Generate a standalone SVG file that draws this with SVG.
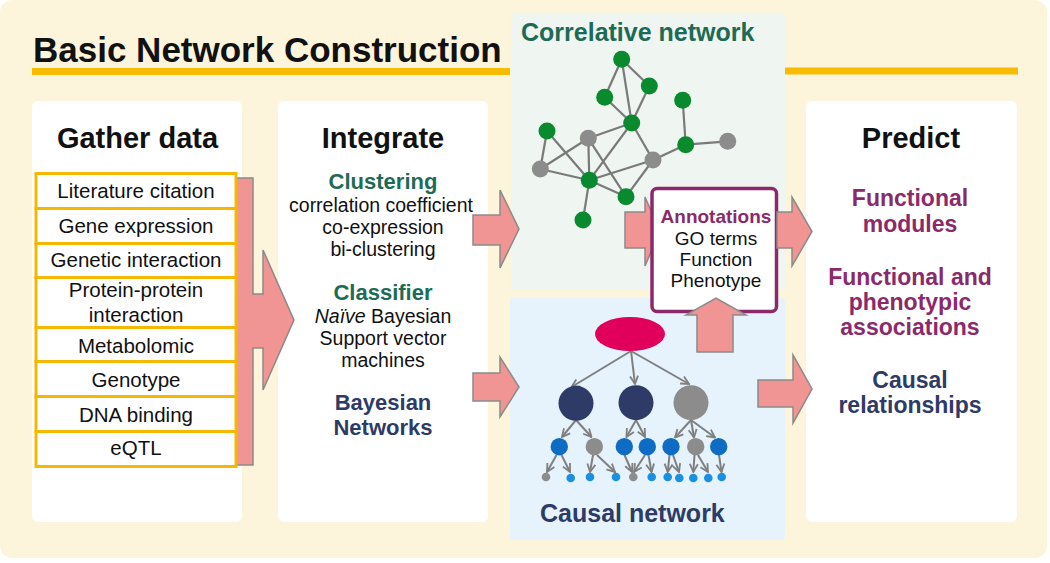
<svg xmlns="http://www.w3.org/2000/svg" width="1050" height="563" viewBox="0 0 1050 563">
<defs>
<style>
text{font-family:"Liberation Sans",Arial,sans-serif;text-anchor:middle}
.b{font-weight:bold}
.hdr{font-size:29px;font-weight:bold;fill:#111}
.li{font-size:20.5px;fill:#111}
.ib{font-size:19.5px;fill:#111}
.teal{fill:#1E6B55}
.navy{fill:#2D3B66}
.purp{fill:#8B2A6B}
.panel{fill:#FFFFFF}
.row{fill:#FFFFFF;stroke:#F5B800;stroke-width:3}
.blk{fill:#F09494;stroke:#8A8A8A;stroke-width:1.5;stroke-linejoin:miter}
.e{stroke:#7A7A7A;stroke-width:2.2;fill:none}
.ca{stroke:#7F7F7F;stroke-width:2;fill:none;marker-end:url(#chev)}
.g{fill:#0A8A2E}
.gr{fill:#8C8C8C}
.nv{fill:#2D3B66}
.bl{fill:#0E6CC4}
.sb{fill:#1A90E2}
</style>
<marker id="chev" viewBox="0 0 10 10" refX="9" refY="5" markerWidth="10" markerHeight="10" markerUnits="userSpaceOnUse" orient="auto">
<path d="M1,1 L9,5 L1,9" fill="none" stroke="#7F7F7F" stroke-width="1.8"/>
</marker>
</defs>

<rect x="0" y="0" width="1047" height="558" rx="12" fill="#FCF5DC"/>

<g id="title">
<rect x="32" y="68" width="478" height="7" fill="#F7BC00"/>
<rect x="785" y="67.5" width="233" height="7" fill="#F7BC00"/>
<text x="33" y="62" style="text-anchor:start;font-size:35px;font-weight:bold;fill:#111">Basic Network Construction</text>
</g>

<g id="panel-gather">
<rect class="panel" x="32" y="101" width="210" height="421" rx="6"/>
<text class="hdr" x="137.5" y="148">Gather data</text>
</g>

<g id="panel-integrate">
<rect class="panel" x="278" y="101" width="210" height="421" rx="6"/>
<text class="hdr" x="383" y="148">Integrate</text>
<text class="b teal" x="383" y="189" style="font-size:22px">Clustering</text>
<text class="ib" x="381" y="212">correlation coefficient</text>
<text class="ib" x="383" y="234">co-expression</text>
<text class="ib" x="383" y="256">bi-clustering</text>
<text class="b teal" x="383" y="300" style="font-size:22px">Classifier</text>
<text class="ib" x="383" y="323"><tspan font-style="italic">Naïve</tspan> Bayesian</text>
<text class="ib" x="383" y="345">Support vector</text>
<text class="ib" x="383" y="367">machines</text>
<text class="b navy" x="383" y="410" style="font-size:22px">Bayesian</text>
<text class="b navy" x="383" y="435" style="font-size:22px">Networks</text>
</g>

<g id="panel-predict">
<rect class="panel" x="806" y="101" width="211" height="421" rx="6"/>
<text class="hdr" x="911" y="148">Predict</text>
<text class="b purp" x="910" y="206" style="font-size:23px">Functional</text>
<text class="b purp" x="910" y="232" style="font-size:23px">modules</text>
<text class="b purp" x="910" y="285" style="font-size:23px">Functional and</text>
<text class="b purp" x="910" y="310" style="font-size:23px">phenotypic</text>
<text class="b purp" x="910" y="335" style="font-size:23px">associations</text>
<text class="b navy" x="910" y="388" style="font-size:23px">Causal</text>
<text class="b navy" x="910" y="413" style="font-size:23px">relationships</text>
</g>

<g id="panel-correlative">
<rect x="511" y="13" width="274" height="277" rx="4" fill="#EFF5F0"/>
<text class="b teal" x="521" y="41" style="text-anchor:start;font-size:25px">Correlative network</text>
<g class="e">
<line x1="621.7" y1="59.3" x2="649.3" y2="86"/>
<line x1="621.7" y1="59.3" x2="604.7" y2="97.3"/>
<line x1="621.7" y1="59.3" x2="631.7" y2="123"/>
<line x1="649.3" y1="86" x2="631.7" y2="123"/>
<line x1="604.7" y1="97.3" x2="631.7" y2="123"/>
<line x1="631.7" y1="123" x2="588.3" y2="138.3"/>
<line x1="631.7" y1="123" x2="653" y2="160"/>
<line x1="631.7" y1="123" x2="589.3" y2="180.3"/>
<line x1="547" y1="131" x2="540.3" y2="169"/>
<line x1="547" y1="131" x2="589.3" y2="180.3"/>
<line x1="588.3" y1="138.3" x2="540.3" y2="169"/>
<line x1="588.3" y1="138.3" x2="589.3" y2="180.3"/>
<line x1="588.3" y1="138.3" x2="626" y2="196.7"/>
<line x1="540.3" y1="169" x2="589.3" y2="180.3"/>
<line x1="589.3" y1="180.3" x2="653" y2="160"/>
<line x1="589.3" y1="180.3" x2="626" y2="196.7"/>
<line x1="626" y1="196.7" x2="653" y2="160"/>
<line x1="653" y1="160" x2="685.7" y2="144.7"/>
<line x1="685.7" y1="144.7" x2="682.7" y2="100.3"/>
<line x1="685.7" y1="144.7" x2="727.7" y2="141.3"/>
<line x1="589.3" y1="180.3" x2="583" y2="220"/>
</g>
<circle class="g" cx="621.7" cy="59.3" r="8.5"/>
<circle class="g" cx="649.3" cy="86" r="8.5"/>
<circle class="g" cx="604.7" cy="97.3" r="8.5"/>
<circle class="g" cx="682.7" cy="100.3" r="8.5"/>
<circle class="g" cx="631.7" cy="123" r="8.5"/>
<circle class="g" cx="547" cy="131" r="8.5"/>
<circle class="gr" cx="588.3" cy="138.3" r="8.5"/>
<circle class="g" cx="685.7" cy="144.7" r="8.5"/>
<circle class="gr" cx="727.7" cy="141.3" r="8.5"/>
<circle class="gr" cx="653" cy="160" r="8.5"/>
<circle class="gr" cx="540.3" cy="169" r="8.5"/>
<circle class="g" cx="589.3" cy="180.3" r="8.5"/>
<circle class="g" cx="626" cy="196.7" r="8.5"/>
<circle class="g" cx="583" cy="220" r="8.5"/>
</g>

<g id="panel-causal">
<rect x="510" y="298" width="275" height="242" rx="4" fill="#E6F2FC"/>
<text class="b navy" x="540" y="522" style="text-anchor:start;font-size:25px">Causal network</text>
<g>
<line class="ca" x1="631" y1="351" x2="571.5" y2="387"/>
<line class="ca" x1="631" y1="351" x2="635" y2="384"/>
<line class="ca" x1="631" y1="351" x2="689" y2="384"/>
<line class="ca" x1="576" y1="420" x2="562" y2="437"/>
<line class="ca" x1="576" y1="420" x2="591.5" y2="437"/>
<line class="ca" x1="636" y1="420" x2="626.5" y2="437"/>
<line class="ca" x1="636" y1="420" x2="645" y2="437"/>
<line class="ca" x1="691" y1="420" x2="675" y2="437.5"/>
<line class="ca" x1="691" y1="420" x2="694" y2="437.5"/>
<line class="ca" x1="691" y1="420" x2="715" y2="437.5"/>
<line class="ca" x1="556.5" y1="455" x2="547" y2="472"/>
<line class="ca" x1="561.5" y1="455" x2="570" y2="472"/>
<line class="ca" x1="593" y1="455" x2="590" y2="472"/>
<line class="ca" x1="597" y1="455" x2="615" y2="472"/>
<line class="ca" x1="624.5" y1="455" x2="632" y2="472"/>
<line class="ca" x1="645" y1="455" x2="634" y2="472"/>
<line class="ca" x1="648.5" y1="455" x2="651.5" y2="472"/>
<line class="ca" x1="669.5" y1="455" x2="667.7" y2="472"/>
<line class="ca" x1="673" y1="455" x2="679" y2="472"/>
<line class="ca" x1="694.5" y1="455" x2="693.3" y2="472"/>
<line class="ca" x1="698" y1="455" x2="708" y2="472"/>
<line class="ca" x1="719" y1="455" x2="721.5" y2="472"/>
</g>
<ellipse cx="630" cy="334" rx="35" ry="17" fill="#E0005C"/>
<circle class="nv" cx="576" cy="403.3" r="17.5"/>
<circle class="nv" cx="636" cy="402.7" r="17.5"/>
<circle class="gr" cx="691" cy="402.7" r="17.5"/>
<circle class="bl" cx="559.3" cy="446.7" r="8.7"/>
<circle class="gr" cx="594.3" cy="446.7" r="8.7"/>
<circle class="bl" cx="624.3" cy="446.7" r="8.7"/>
<circle class="bl" cx="647.3" cy="446.7" r="8.7"/>
<circle class="bl" cx="671" cy="446.7" r="8.7"/>
<circle class="gr" cx="695.7" cy="446.7" r="8.7"/>
<circle class="bl" cx="718.7" cy="446.7" r="8.7"/>
<circle class="gr" cx="546" cy="477" r="4.3"/>
<circle class="sb" cx="570.7" cy="478" r="4.3"/>
<circle class="sb" cx="590" cy="477" r="4.3"/>
<circle class="sb" cx="616" cy="477" r="4.3"/>
<circle class="gr" cx="633.3" cy="477" r="4.3"/>
<circle class="sb" cx="651.7" cy="477" r="4.3"/>
<circle class="sb" cx="667.7" cy="477" r="4.3"/>
<circle class="sb" cx="679.3" cy="478" r="4.3"/>
<circle class="sb" cx="693.3" cy="478" r="4.3"/>
<circle class="sb" cx="708.3" cy="478" r="4.3"/>
<circle class="sb" cx="721.7" cy="477" r="4.3"/>
</g>

<g id="connectors">
<polygon class="blk" points="236,178 253,178 253,294 263,294 263,250 294,320 263,390 263,348 253,348 253,465 236,465"/>
<polygon class="blk" points="473,215 500,215 500,190 519,229 500,268 500,245 473,245"/>
<polygon class="blk" points="473,373 500,373 500,357 519,387 500,417 500,401 473,401"/>
<polygon class="blk" points="625,212 645,212 645,197 660,231 645,266 645,248 625,248"/>
<polygon class="blk" points="758,380 793,380 793,355 812,389 793,423 793,407 758,407"/>
</g>

<g id="annotations">
<rect x="652" y="188.5" width="124.5" height="123" rx="5" fill="#FFFFFF" stroke="#8B2A6B" stroke-width="3.5"/>
<text class="b purp" x="716" y="223" style="font-size:19px">Annotations</text>
<text x="716" y="245" style="font-size:19px;fill:#111">GO terms</text>
<text x="716" y="266" style="font-size:19px;fill:#111">Function</text>
<text x="716" y="287" style="font-size:19px;fill:#111">Phenotype</text>
</g>

<g id="connectors-top">
<polygon class="blk" points="777,212 792,212 792,197 812,231.5 792,266 792,248 777,248"/>
<polygon class="blk" points="697,352 697,315 686,315 716,298 746,315 733,315 733,352"/>
</g>

<g id="gather-list">
<rect class="row" x="36" y="173.5" width="200" height="35"/>
<rect class="row" x="36" y="208.5" width="200" height="35"/>
<rect class="row" x="36" y="243.5" width="200" height="34"/>
<rect class="row" x="36" y="277.5" width="200" height="50"/>
<rect class="row" x="36" y="327.5" width="200" height="34"/>
<rect class="row" x="36" y="361.5" width="200" height="35"/>
<rect class="row" x="36" y="396.5" width="200" height="35"/>
<rect class="row" x="36" y="431.5" width="200" height="35"/>
<text class="li" x="136" y="198">Literature citation</text>
<text class="li" x="136" y="233">Gene expression</text>
<text class="li" x="136" y="267">Genetic interaction</text>
<text class="li" x="136" y="297">Protein-protein</text>
<text class="li" x="136" y="322">interaction</text>
<text class="li" x="136" y="353">Metabolomic</text>
<text class="li" x="136" y="387">Genotype</text>
<text class="li" x="136" y="422">DNA binding</text>
<text class="li" x="136" y="455">eQTL</text>
</g>
</svg>
